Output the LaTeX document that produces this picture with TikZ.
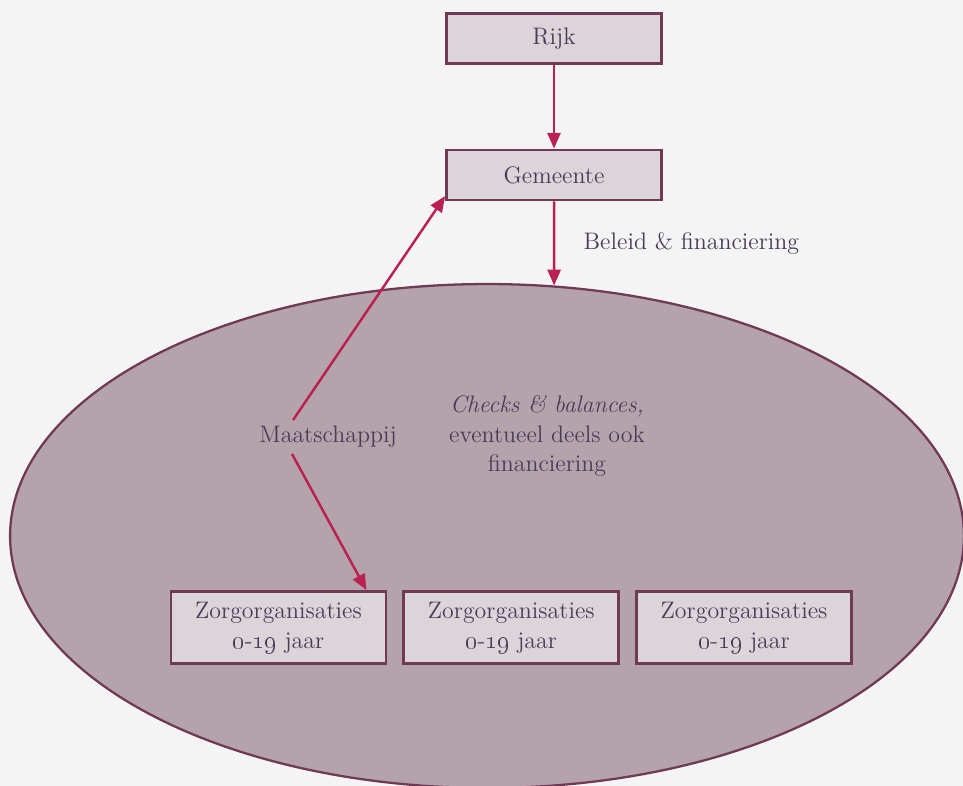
\documentclass[tikz,border=0pt]{standalone}
\usetikzlibrary{arrows.meta,positioning,shapes.geometric}

\definecolor{plumline}{RGB}{112,58,85}
\definecolor{boxfill}{RGB}{219,212,217}
\definecolor{fieldfill}{RGB}{181,163,171}
\definecolor{arrowred}{RGB}{185,33,83}
\definecolor{inktext}{RGB}{72,60,90}
\definecolor{paper}{RGB}{244,244,244}

\newcommand{\agerange}{\oldstylenums{0}-\oldstylenums{19}}

\tikzset{
    orgbox/.style={draw=plumline, line width=1.6pt, fill=boxfill, inner sep=0pt,
        minimum width=4.3cm, minimum height=1.0cm},
    zorgbox/.style={orgbox, minimum height=1.44cm, align=center},
    link/.style={->, draw=arrowred, line width=1.4pt}
}

\begin{document}
\begin{tikzpicture}[x=0.02cm, y=0.02cm, >={Triangle[length=9pt,width=7.5pt]},
    font=\fontsize{13.6}{17}\selectfont, text=inktext]
    \fill[paper] (0,0) rectangle (963,-786);
    \useasboundingbox (0,0) rectangle (963,-786);
    \clip (0,0) rectangle (963,-786);

    \node[ellipse, draw=plumline, line width=1.3pt, fill=fieldfill, inner sep=0pt,
        minimum width=19.08cm, minimum height=10.08cm] (veld) at (487,-536) {};

    \node[orgbox] (rijk) at (554,-38.5) {Rijk};
    \node[orgbox] (gemeente) at (554,-175) {Gemeente};

    \node (maat) at (328,-437) {Maatschappij};
    \node[align=center] (checks) at (547,-436)
        {\itshape Checks \& balances,\\eventueel deels ook\\financiering};

    \node[zorgbox] (zorg1) at (278.5,-627.5) {Zorgorganisaties\\\agerange{} jaar};
    \node[zorgbox, right=0.3cm of zorg1] (zorg2) {Zorgorganisaties\\\agerange{} jaar};
    \node[zorgbox, right=0.3cm of zorg2] (zorg3) {Zorgorganisaties\\\agerange{} jaar};

    \draw[link] (rijk) -- (gemeente);
    \draw[link] (gemeente) -- (veld.75)
        node[midway, right=0.45cm] {Beleid \& financiering};
    \draw[link] ([xshift=-0.7cm]maat.north) -- ([yshift=3pt]gemeente.south west);
    \draw[link] ([xshift=-0.72cm]maat.south) -- ([xshift=-0.42cm]zorg1.north east);
\end{tikzpicture}
\end{document}
